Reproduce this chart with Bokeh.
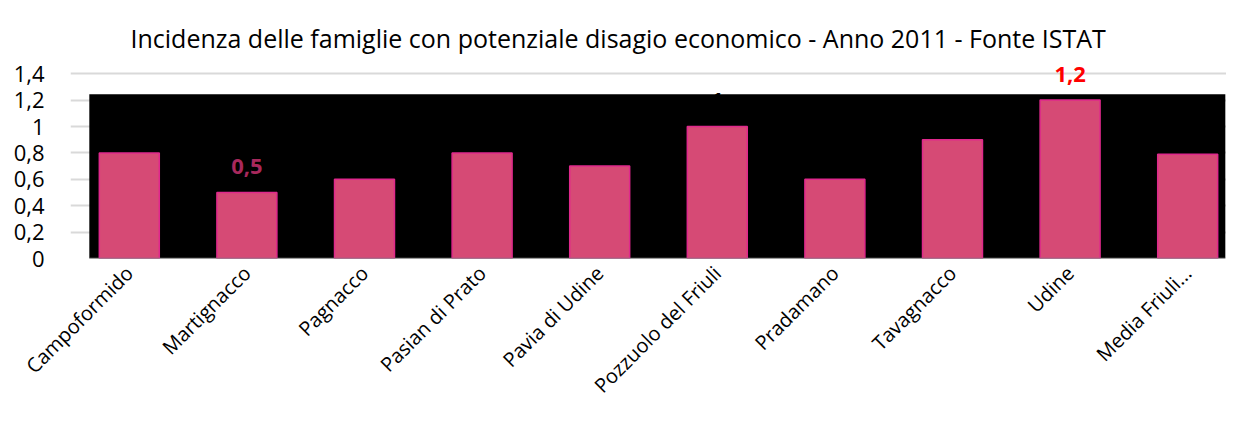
from bokeh.plotting import figure
from bokeh.embed import file_html
from bokeh.resources import INLINE
from bokeh.models import (Range1d, FixedTicker, CustomJSTickFormatter, BoxAnnotation,
                          ColumnDataSource, LinearAxis)
from bokeh.core.properties import value
import math

# ---- data ----
categories = ["Campoformido", "Martignacco", "Pagnacco", "Pasian di Prato", "Pavia di Udine",
              "Pozzuolo del Friuli", "Pradamano", "Tavagnacco", "Udine", "Media Friuli..."]
values = [0.8, 0.5, 0.6, 0.8, 0.7, 1.0, 0.6, 0.9, 1.2, 0.79]
label_texts = ["", "0,5", "", "", "", "1", "", "", "1,2", ""]
label_colors = ["#000000", "#A8285C", "#000000", "#000000", "#000000", "#000000",
                "#000000", "#000000", "#FF0000", "#000000"]
y_ticks = [0, 0.2, 0.4, 0.6, 0.8, 1.0, 1.2, 1.4]
title_text = "Incidenza delle famiglie con potenziale disagio economico - Anno 2011 - Fonte ISTAT"

FONT = "Open Sans"
idx = list(range(len(categories)))

p = figure(width=1226, height=411, output_backend="svg", toolbar_location=None,
           x_range=Range1d(-0.5, 9.33), y_range=Range1d(0, 1.5),
           min_border_left=70, min_border_right=0, min_border_top=60, min_border_bottom=152)

p.title.text = title_text
p.title.align = "left"
p.title.offset = 60
p.title.standoff = 7
p.title.vertical_align = "top"
p.title.text_font = FONT
p.title.text_font_size = "25px"
p.title.text_font_style = "normal"
p.title.text_color = "#000000"

# empty spacer axis (no ticks, no labels) between the title and the plot area
spacer = LinearAxis(ticker=FixedTicker(ticks=[]), axis_line_color=None,
                    major_tick_line_color="white", minor_tick_line_color=None,
                    major_tick_out=18, major_tick_in=0, major_label_standoff=0)
p.add_layout(spacer, "above")

p.outline_line_color = None
p.background_fill_color = "white"
p.border_fill_color = "white"

# black panel behind bars
p.add_layout(BoxAnnotation(left=-0.34, right=9.32, bottom=0, top=1.245,
                           fill_color="black", fill_alpha=1.0, line_color=None, level="underlay"))

src = ColumnDataSource(dict(x=idx, top=values, txt=label_texts, col=label_colors))
p.vbar(x="x", top="top", width=0.51, source=src, fill_color="#D64A75",
       line_color="#E0288C", line_width=1.5)
p.segment(x0=[-0.34], y0=[0], x1=[9.32], y1=[0], line_color="#7F7F7F", line_width=1.5)
p.text(x="x", y="top", text="txt", source=src, text_color="col", text_align="center",
       text_baseline="middle", y_offset=-26, text_font=value(FONT),
       text_font_size="22px", text_font_style="bold")

# bottom category axis
xa = p.below[0]
xa.ticker = FixedTicker(ticks=idx)
xa.major_label_overrides = {i: c for i, c in zip(idx, categories)}
xa.major_label_orientation = math.pi / 4
xa.major_label_text_font = FONT
xa.major_label_text_font_size = "20px"
xa.major_label_text_color = "#000000"
xa.major_tick_line_color = None
xa.minor_tick_line_color = None
xa.major_tick_out = 0
xa.major_tick_in = 0
xa.axis_line_color = None
xa.major_label_standoff = 11

# left value axis
ya = p.left[0]
ya.ticker = FixedTicker(ticks=y_ticks)
ya.formatter = CustomJSTickFormatter(code="return Number(tick.toFixed(1)).toString().replace('.', ',');")
ya.major_label_text_font = FONT
ya.major_label_text_font_size = "22px"
ya.major_label_text_color = "#000000"
ya.major_tick_line_color = None
ya.minor_tick_line_color = None
ya.major_tick_out = 0
ya.major_tick_in = 0
ya.axis_line_color = None
ya.major_label_standoff = 26

p.xgrid.grid_line_color = None
p.ygrid.grid_line_color = "#D9D9D9"
p.ygrid.grid_line_width = 2

open("out.html", "w").write(file_html(p, INLINE))
